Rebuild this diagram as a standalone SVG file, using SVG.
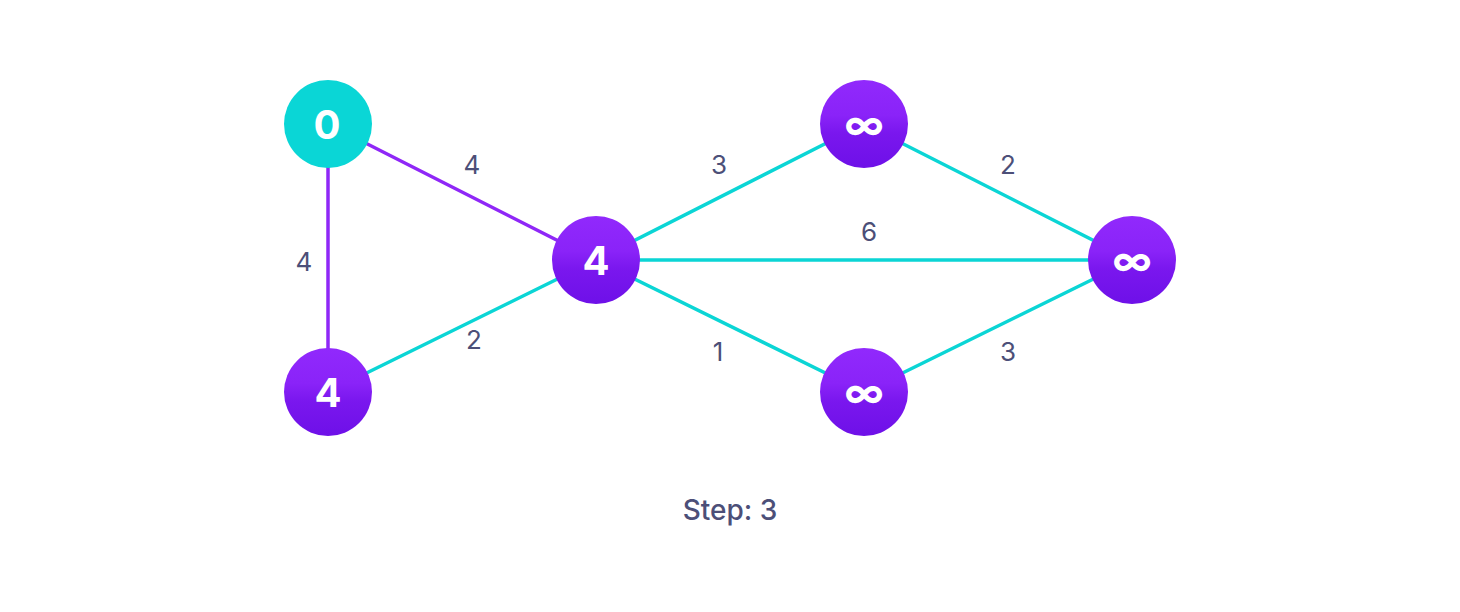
<svg xmlns="http://www.w3.org/2000/svg" width="1460" height="612" viewBox="0 0 1460 612">
<style>
.e{stroke-width:3.5;fill:none;stroke-linecap:round}
.p{stroke:#8F27F7}
.t{stroke:#0BD5D5}
.w{font-family:Inter,"Liberation Sans",sans-serif;font-size:26px;fill:#4C4F78;text-anchor:middle}
.n{font-family:Inter,"Liberation Sans",sans-serif;font-size:40px;font-weight:700;fill:#fff;text-anchor:middle}
</style>
<defs>
<linearGradient id="g" x1="0" y1="0" x2="0" y2="1">
<stop offset="0" stop-color="#9129FC"/>
<stop offset="0.4" stop-color="#8A23F8"/>
<stop offset="0.6" stop-color="#7A17EE"/>
<stop offset="1" stop-color="#6E10E8"/>
</linearGradient>
</defs>
<rect width="1460" height="612" fill="#fff"/>
<g id="connectors">
<line class="e p" x1="328" y1="124" x2="596" y2="260"/>
<line class="e p" x1="328" y1="124" x2="328" y2="392"/>
<line class="e t" x1="328" y1="392" x2="596" y2="260"/>
<line class="e t" x1="596" y1="260" x2="864" y2="124"/>
<line class="e t" x1="596" y1="260" x2="1132" y2="260"/>
<line class="e t" x1="596" y1="260" x2="864" y2="392"/>
<line class="e t" x1="864" y1="124" x2="1132" y2="260"/>
<line class="e t" x1="864" y1="392" x2="1132" y2="260"/>
<text class="w" x="472" y="174">4</text>
<text class="w" x="304" y="271">4</text>
<text class="w" x="474" y="349">2</text>
<text class="w" x="719" y="174">3</text>
<text class="w" x="869" y="241">6</text>
<text class="w" x="718" y="361">1</text>
<text class="w" x="1008" y="174">2</text>
<text class="w" x="1008" y="361">3</text>
</g>
<g id="nA"><circle cx="328" cy="124" r="44" fill="#0AD6D6"/><text class="n" x="327" y="139">0</text></g>
<g id="nB"><circle cx="328" cy="392" r="44" fill="url(#g)"/><text class="n" x="328" y="407">4</text></g>
<g id="nC"><circle cx="596" cy="260" r="44" fill="url(#g)"/><text class="n" x="596" y="275">4</text></g>
<g id="nD"><circle cx="864" cy="124" r="44" fill="url(#g)"/><text class="n" x="864" y="139">∞</text></g>
<g id="nE"><circle cx="864" cy="392" r="44" fill="url(#g)"/><text class="n" x="864" y="407">∞</text></g>
<g id="nF"><circle cx="1132" cy="260" r="44" fill="url(#g)"/><text class="n" x="1132" y="275">∞</text></g>
<text x="730" y="520" font-family="Inter,'Liberation Sans',sans-serif" font-size="28" font-weight="500" fill="#4C4F78" text-anchor="middle">Step: 3</text>
</svg>
